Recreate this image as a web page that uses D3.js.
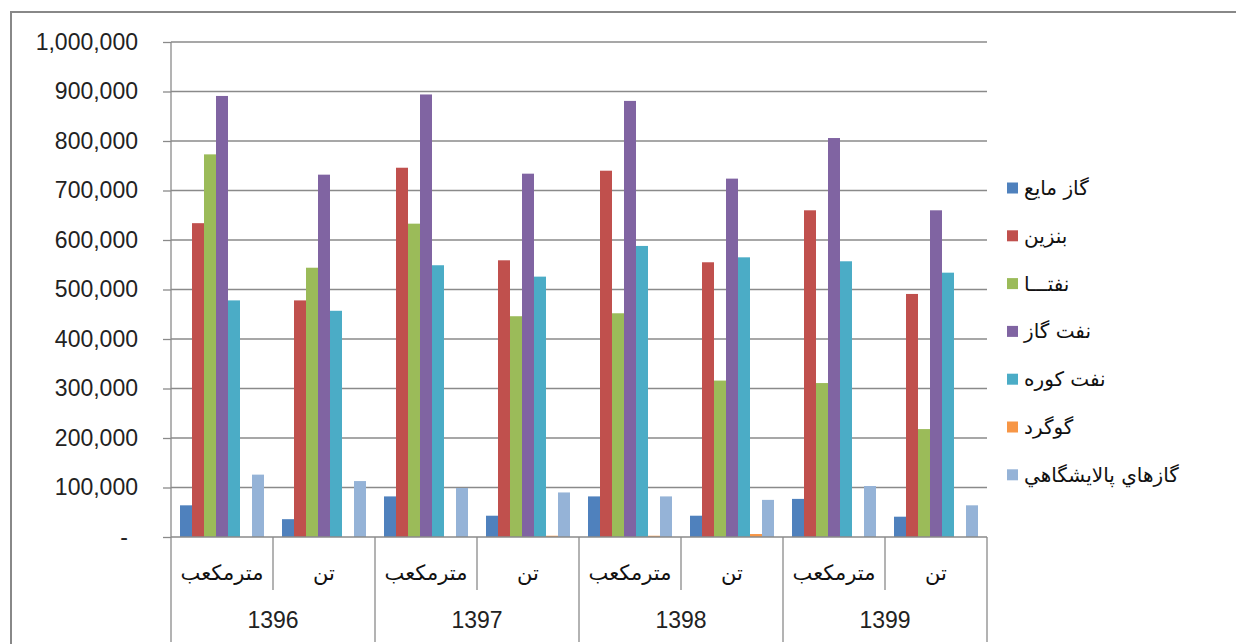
<!DOCTYPE html>
<html>
<head>
<meta charset="utf-8">
<script src="https://cdn.jsdelivr.net/npm/d3@7"></script>
<style>
html,body{margin:0;padding:0;background:#fff;}
svg{display:block;}
</style>
</head>
<body>
<svg id="chart" width="1236" height="644"></svg>
<script>
// ---- data ----
const years = ["1396", "1397", "1398", "1399"];
const units = ["مترمکعب", "تن"];
const seriesNames = ["گاز مايع", "بنزين", "نفتـــا", "نفت گاز", "نفت کوره", "گوگرد", "گازهاي پالايشگاهي"];
const seriesColors = ["#4F81BD", "#C0504D", "#9BBB59", "#8064A2", "#4BACC6", "#F79646", "#95B3D7"];
// values per category (year x unit), order: 1396-m3, 1396-ton, 1397-m3, 1397-ton, ...
const lpg      = [64000, 36000, 82000, 43000, 82000, 43000, 77000, 41000];
const gasoline = [634000, 478000, 746000, 559000, 740000, 555000, 660000, 491000];
const naphtha  = [773000, 544000, 633000, 446000, 452000, 316000, 311000, 218000];
const gasoil   = [891000, 732000, 894000, 734000, 881000, 724000, 806000, 660000];
const fueloil  = [478000, 457000, 549000, 526000, 588000, 565000, 557000, 534000];
const sulfur   = [0, 0, 0, 2500, 2500, 6000, 0, 0];
const refgas   = [126000, 113000, 99000, 90000, 82000, 75000, 103000, 64000];
const yTicks = [0, 100000, 200000, 300000, 400000, 500000, 600000, 700000, 800000, 900000, 1000000];

(function () {
const seriesValues = [lpg, gasoline, naphtha, gasoil, fueloil, sulfur, refgas];
const categories = [];
years.forEach(yr => units.forEach(u => categories.push({year: yr, unit: u, key: yr + "|" + u})));

// ---- layout ----
const svg = d3.select("#chart");
const pL = 171, pR = 987, pT = 42, pB = 537;

// outer border
svg.append("path")
  .attr("d", "M11,650 L11,12 L1240,12")
  .attr("fill", "none").attr("stroke", "#888").attr("stroke-width", 2);

const x0 = d3.scaleBand().domain(categories.map(d => d.key)).range([pL, pR]).padding(0);
const bw = x0.bandwidth();
const barW = bw / 8.5;
const x1 = d3.scaleBand().domain(d3.range(seriesNames.length))
  .range([barW * 0.75, bw - barW * 0.75]).padding(0);
const y = d3.scaleLinear().domain([0, 1000000]).range([pB, pT]);

// gridlines
svg.append("g").selectAll("line").data(yTicks.filter(t => t > 0)).join("line")
  .attr("x1", pL).attr("x2", pR)
  .attr("y1", d => y(d)).attr("y2", d => y(d))
  .attr("stroke", "#8a8a8a").attr("stroke-width", 1.3);

// y axis
const fmt = d3.format(",");
const yAxis = d3.axisLeft(y).tickValues(yTicks).tickSize(8).tickPadding(25)
  .tickFormat(d => d === 0 ? "-" : fmt(d));
const gy = svg.append("g").attr("transform", `translate(${pL},0)`).call(yAxis);
gy.select(".domain").remove();
gy.selectAll(".tick line").attr("stroke", "#8a8a8a").attr("stroke-width", 1.3);
gy.selectAll(".tick text")
  .attr("font-family", "Liberation Sans, Arial, sans-serif")
  .attr("font-size", 23).attr("fill", "#222")
  .attr("dx", d => d === 0 ? -10 : 0);

// bars
const groups = svg.append("g").selectAll("g").data(categories).join("g")
  .attr("transform", d => `translate(${x0(d.key)},0)`);
groups.selectAll("rect")
  .data((d, ci) => seriesValues.map((vals, si) => ({si, v: vals[ci]})))
  .join("rect")
  .attr("x", d => x1(d.si))
  .attr("width", x1.bandwidth())
  .attr("y", d => y(d.v))
  .attr("height", d => pB - y(d.v))
  .attr("fill", d => seriesColors[d.si]);

// axis lines & category separators
svg.append("line").attr("x1", pL).attr("x2", pL).attr("y1", pT).attr("y2", 642)
  .attr("stroke", "#8a8a8a").attr("stroke-width", 1.3);
svg.append("line").attr("x1", pL).attr("x2", pR).attr("y1", pB).attr("y2", pB)
  .attr("stroke", "#8a8a8a").attr("stroke-width", 1.3);
svg.append("g").selectAll("line").data(categories).join("line")
  .attr("x1", d => x0(d.key) + bw).attr("x2", d => x0(d.key) + bw)
  .attr("y1", pB)
  .attr("y2", d => d.unit === units[1] ? 642 : 590)
  .attr("stroke", "#8a8a8a").attr("stroke-width", 1.3);

// unit labels
svg.append("g").selectAll("text").data(categories).join("text")
  .attr("x", d => x0(d.key) + bw / 2).attr("y", 580)
  .attr("text-anchor", "middle")
  .attr("font-family", "DejaVu Sans, sans-serif").attr("font-size", 21).attr("fill", "#111")
  .text(d => d.unit);

// year labels
svg.append("g").selectAll("text").data(years).join("text")
  .attr("x", d => x0(d + "|" + units[0]) + bw)
  .attr("y", 628)
  .attr("text-anchor", "middle")
  .attr("font-family", "Liberation Sans, Arial, sans-serif").attr("font-size", 23).attr("fill", "#222")
  .text(d => d);

// legend
const lg = svg.append("g").selectAll("g").data(seriesNames).join("g")
  .attr("transform", (d, i) => `translate(1007,${188 + i * 47.8})`);
lg.append("rect").attr("x", 0).attr("y", -5.5).attr("width", 11).attr("height", 11)
  .attr("fill", (d, i) => seriesColors[i]);
lg.append("text").attr("x", 17).attr("y", 7)
  .attr("font-family", "DejaVu Sans, sans-serif").attr("font-size", 20).attr("fill", "#111")
  .text(d => d);
})();
</script>
</body>
</html>
